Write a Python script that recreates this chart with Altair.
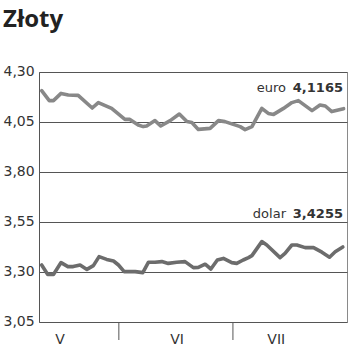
import altair as alt
import pandas as pd

# Euro (EUR/PLN) series: position along time axis (day-like units) and value
euro_t = [0.7, 2.7, 3.8, 5.8, 7.7, 10.3, 14.0, 15.6, 19.1, 22.6, 23.9, 26.1, 27.4, 28.3,
          30.5, 32.0, 34.5, 36.9, 38.9, 40.2, 41.9, 45.0, 47.2, 48.9, 52.9, 54.2, 56.0,
          58.6, 60.3, 61.7, 64.3, 66.5, 68.2, 71.8, 73.9, 75.3, 77.0, 80.1]
euro_v = [4.207, 4.157, 4.157, 4.193, 4.185, 4.183, 4.120, 4.147, 4.118, 4.063, 4.063,
          4.035, 4.027, 4.030, 4.057, 4.030, 4.057, 4.090, 4.052, 4.047, 4.013, 4.018,
          4.057, 4.052, 4.027, 4.012, 4.027, 4.118, 4.093, 4.088, 4.118, 4.147, 4.157,
          4.107, 4.135, 4.130, 4.102, 4.1165]

# Dollar (USD/PLN) series
usd_t = [0.7, 2.3, 3.8, 5.8, 7.6, 9.0, 10.8, 12.6, 14.3, 15.8, 17.8, 19.6, 20.9, 22.4,
         25.3, 27.3, 28.8, 30.5, 32.3, 34.0, 36.2, 38.4, 40.6, 41.9, 43.7, 45.2, 46.9,
         48.5, 50.7, 52.0, 53.7, 55.1, 56.0, 58.6, 59.9, 63.4, 64.7, 66.5, 67.8, 70.0,
         72.2, 74.4, 76.4, 77.9, 79.9]
usd_v = [3.335, 3.288, 3.288, 3.347, 3.327, 3.327, 3.335, 3.313, 3.332, 3.377, 3.363,
         3.355, 3.335, 3.302, 3.302, 3.297, 3.349, 3.349, 3.352, 3.343, 3.349, 3.352,
         3.322, 3.323, 3.339, 3.315, 3.360, 3.368, 3.347, 3.343, 3.360, 3.372, 3.382,
         3.452, 3.435, 3.372, 3.393, 3.435, 3.435, 3.422, 3.422, 3.399, 3.374, 3.401,
         3.4255]

y_ticks = [3.05, 3.30, 3.55, 3.80, 4.05, 4.30]
month_bounds = [21, 51]
month_names = ["V", "VI", "VII"]
month_centers = [5.5, 36.3, 62.4]
series_names = ["euro", "dolar"]
last_labels = ["4,1165", "3,4255"]

X_DOM = [0, 81]
Y_DOM = [3.05, 4.30]
FONT = "DejaVu Sans"

euro_df = pd.DataFrame({"t": euro_t, "v": euro_v})
usd_df = pd.DataFrame({"t": usd_t, "v": usd_v})
last_df = pd.DataFrame({
    "name": series_names,
    "val": last_labels,
    "v": [euro_v[-1], usd_v[-1]],
})
bounds_df = pd.DataFrame({"t": month_bounds})
months_df = pd.DataFrame({"t": month_centers, "m": month_names})

xs = alt.Scale(domain=X_DOM, nice=False, zero=False)
ys = alt.Scale(domain=Y_DOM, nice=False, zero=False)

base_axis_y = alt.Axis(
    values=y_ticks,
    labelExpr="replace(format(datum.value, '.2f'), '.', ',')",
    grid=True, gridColor="#555555", gridWidth=1, gridOpacity=1,
    domain=True, domainColor="#555555", domainWidth=1,
    ticks=True, tickSize=0,
    labelAlign="left", labelPadding=36, labelBaseline="middle", labelOffset=-1,
    labelFont=FONT, labelFontSize=14, labelColor="#333333",
    title=None,
)

euro_line = alt.Chart(euro_df).mark_line(
    color="#888888", strokeWidth=3.6, strokeJoin="round", strokeCap="round"
).encode(
    x=alt.X("t:Q", scale=xs, axis=None),
    y=alt.Y("v:Q", scale=ys, axis=base_axis_y),
)

usd_line = alt.Chart(usd_df).mark_line(
    color="#6c6c6c", strokeWidth=3.6, strokeJoin="round", strokeCap="round"
).encode(
    x=alt.X("t:Q", scale=xs, axis=None),
    y=alt.Y("v:Q", scale=ys),
)

ticks = alt.Chart(bounds_df).mark_rule(color="#555555", strokeWidth=1).encode(
    x=alt.X("t:Q", scale=xs, axis=None),
    y=alt.value(250),
    y2=alt.value(268),
)

month_text = alt.Chart(months_df).mark_text(
    font=FONT, fontSize=14, color="#333333", align="center", baseline="alphabetic"
).encode(
    x=alt.X("t:Q", scale=xs, axis=None),
    y=alt.value(272),
    text="m:N",
)


def label_pair(name, dy):
    src = alt.Chart(last_df).transform_filter(f"datum.name == '{name}'")
    val = src.mark_text(
        font=FONT, fontSize=13, fontWeight="bold", color="#333333", align="right",
        baseline="alphabetic", dy=dy
    ).encode(x=alt.value(304), y=alt.Y("v:Q", scale=ys), text="val:N")
    nm = src.mark_text(
        font=FONT, fontSize=13, color="#333333", align="right",
        baseline="alphabetic", dy=dy, dx=-57
    ).encode(x=alt.value(304), y=alt.Y("v:Q", scale=ys), text="name:N")
    return val, nm


ev, en = label_pair("euro", -17)
dv, dn = label_pair("dolar", -29)

title = alt.Chart(pd.DataFrame({"s": ["Złoty"]})).mark_text(
    font="Open Sans", fontSize=24, fontWeight="bold", color="#222222",
    align="left", baseline="alphabetic"
).encode(
    x=alt.value(-36),
    y=alt.value(-45),
    text="s:N",
)

chart = alt.layer(
    euro_line, usd_line, ticks, month_text, ev, en, dv, dn, title
).properties(
    width=308, height=250,
    padding={"left": 39, "top": 72, "right": 3, "bottom": 32},
    autosize=alt.AutoSizeParams(type="none"),
    background="white",
).configure_view(
    stroke="#8a8a8a", strokeWidth=1
)

chart.save("out.html", embed_options={"renderer": "svg", "actions": False})
